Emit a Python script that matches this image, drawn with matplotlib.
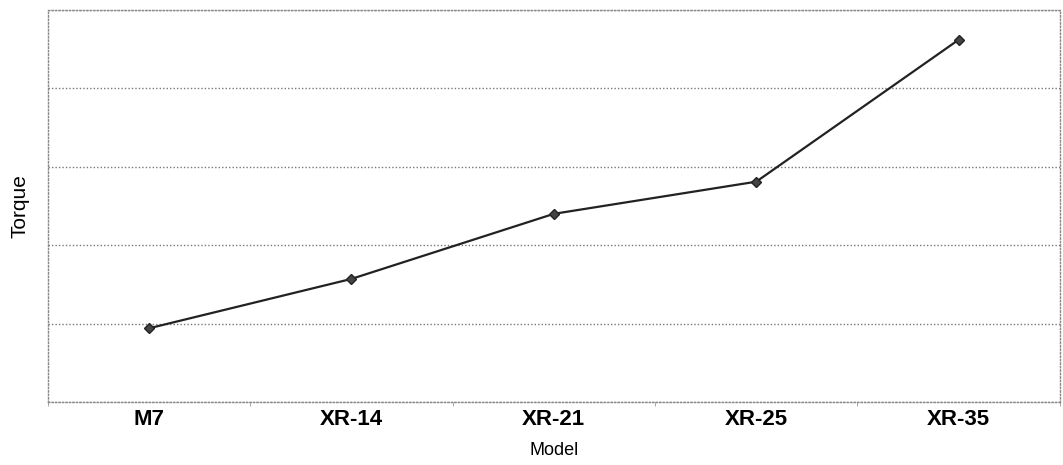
import numpy as np
import matplotlib.pyplot as plt

# data (y axis has no labels, units are gridline steps)
models = ['M7', 'XR-14', 'XR-21', 'XR-25', 'XR-35']
torque = [0.94, 1.57, 2.40, 2.81, 4.62]

plt.rcParams['font.family'] = ['Liberation Sans', 'DejaVu Sans']

fig = plt.figure(figsize=(10.63, 4.65), dpi=100)
ax = fig.add_axes([0.045, 0.1355, 0.952, 0.843])

x = np.arange(len(models))
ax.plot(x, torque, color='#222222', lw=1.6, marker='D', ms=5,
        markerfacecolor='#444444', markeredgecolor='#222222')

ax.set_xlim(-0.5, len(models) - 0.5)
ax.set_ylim(0, 5)
ax.set_yticks(np.arange(0, 6, 1))
ax.set_yticklabels([])
ax.tick_params(axis='y', length=0)
ax.yaxis.grid(True, color='#777777', ls=(0, (1, 1.5)), lw=1)

ax.set_xticks(x)
ax.set_xticklabels(models, fontsize=16, fontweight='bold')
ax.tick_params(axis='x', length=0, pad=5)
ax.set_xticks(np.arange(-0.5, len(models), 1), minor=True)
ax.tick_params(axis='x', which='minor', length=3, color='#999999')

for s in ax.spines.values():
    s.set_color('#888888')
    s.set_linestyle((0, (1, 1.5)))
    s.set_linewidth(1)

ax.set_xlabel('Model', fontsize=13, labelpad=9)
ax.set_ylabel('Torque', fontsize=15, labelpad=10)

fig.savefig('out.png', dpi=100)
